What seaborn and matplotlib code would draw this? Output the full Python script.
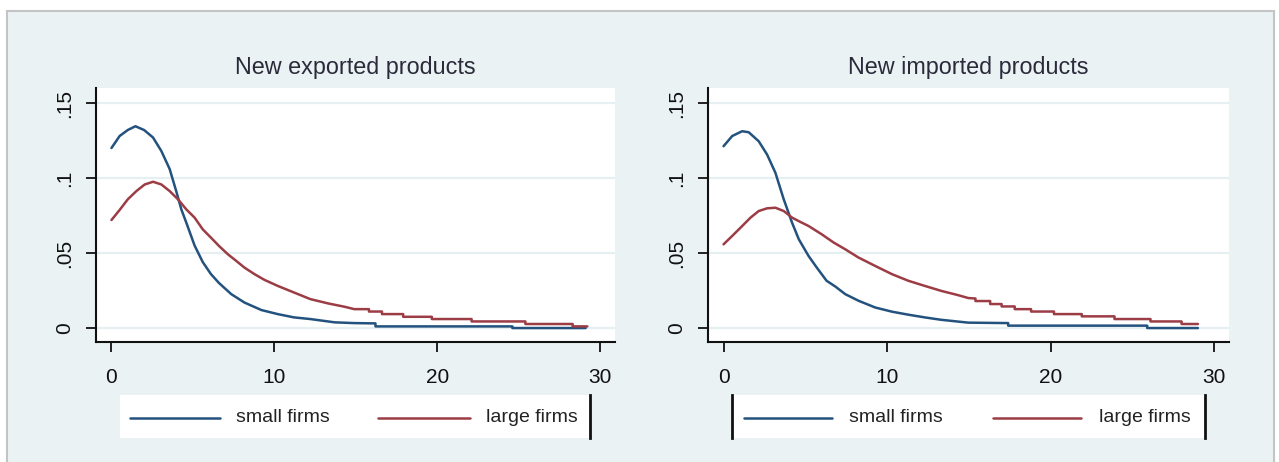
import matplotlib
matplotlib.use("Agg")
import matplotlib.pyplot as plt
from matplotlib.patches import Rectangle
import seaborn as sns
import pandas as pd

# ---- data: densities by number of years, small vs large firms ----
exp_small_x = [0, 0.5, 1.0, 1.47, 2.0, 2.55, 3.06, 3.57, 3.98, 4.29, 4.6, 5.1, 5.6, 6.1, 6.6,
               7.35, 8.16, 9.2, 10.2, 11.2, 12.2, 13.7, 14.9, 16.2, 16.2, 24.6, 24.6, 29.1]
exp_small_y = [0.120, 0.128, 0.132, 0.1345, 0.132, 0.127, 0.118, 0.106, 0.091, 0.079, 0.070,
               0.055, 0.044, 0.036, 0.030, 0.0226, 0.017, 0.012, 0.0093, 0.0071, 0.006, 0.0038,
               0.0033, 0.0031, 0.0011, 0.0011, 0.0, 0.0]

exp_large_x = [0, 0.5, 1.0, 1.53, 2.04, 2.55, 3.06, 3.57, 4.08, 4.6, 5.1, 5.6, 6.1, 6.6, 7.14,
               7.65, 8.16, 8.78, 9.39, 10.2, 11.2, 12.2, 13.3, 14.3, 14.9,
               15.8, 15.8, 16.6, 16.6, 17.9, 17.9, 19.66, 19.66, 22.1, 22.1, 25.4, 25.4,
               28.3, 28.3, 29.2]
exp_large_y = [0.072, 0.0787, 0.0858, 0.0913, 0.0957, 0.0975, 0.0957, 0.0913, 0.0858, 0.079,
               0.0736, 0.0658, 0.0603, 0.0547, 0.0492, 0.0448, 0.0403, 0.0359, 0.0321, 0.0281,
               0.0237, 0.0193, 0.0164, 0.0142, 0.0126,
               0.0126, 0.011, 0.011, 0.0093, 0.0093, 0.0075, 0.0075, 0.006, 0.006, 0.0044,
               0.0044, 0.0027, 0.0027, 0.0011, 0.0011]

imp_small_x = [0, 0.53, 1.14, 1.54, 2.15, 2.66, 3.17, 3.68, 4.19, 4.6, 5.2, 5.7, 6.3, 6.83,
               7.44, 8.25, 9.27, 10.3, 11.3, 12.3, 13.3, 14.96, 17.4, 17.4, 25.9, 25.9, 29.0]
imp_small_y = [0.1212, 0.128, 0.1312, 0.1305, 0.1245, 0.1157, 0.1035, 0.0858, 0.0702, 0.0592,
               0.048, 0.0403, 0.0315, 0.0277, 0.0226, 0.0182, 0.0137, 0.0109, 0.0089, 0.0071,
               0.0055, 0.0036, 0.0033, 0.0016, 0.0016, 0.0, 0.0]

imp_large_x = [0, 0.53, 1.14, 1.65, 2.15, 2.66, 3.17, 3.68, 4.19, 4.7, 5.2, 6.0, 6.73, 7.44,
               8.25, 9.27, 10.3, 11.3, 12.3, 13.3, 14.35, 14.96,
               15.4, 15.4, 16.3, 16.3, 17.0, 17.0, 17.8, 17.8, 18.8, 18.8, 20.2, 20.2,
               21.9, 21.9, 23.9, 23.9, 26.1, 26.1, 28.0, 28.0, 29.0]
imp_large_y = [0.0558, 0.0614, 0.068, 0.0736, 0.078, 0.0798, 0.0802, 0.078, 0.0736, 0.0707,
               0.068, 0.0625, 0.057, 0.0525, 0.047, 0.0414, 0.0359, 0.0315, 0.0281, 0.0248,
               0.0219, 0.0200,
               0.0197, 0.018, 0.018, 0.016, 0.016, 0.0144, 0.0144, 0.0126, 0.0126, 0.011,
               0.011, 0.0093, 0.0093, 0.0078, 0.0078, 0.006, 0.006, 0.0044, 0.0044, 0.0027,
               0.0027]

panel_titles = ["New exported products", "New imported products"]
groups = ["small firms", "large firms"]
x_ticks = [0, 10, 20, 30]
y_ticks = [0, 0.05, 0.1, 0.15]
y_tick_labels = ["0", ".05", ".1", ".15"]

# ---- style ----
sns.set_theme(style="white")
plt.rcParams["font.family"] = ["Liberation Sans", "DejaVu Sans"]

BG = "#eaf2f3"
GRID = "#e6eff1"
colors = {"small firms": "#24527e", "large firms": "#9c3c45"}

W, H = 1279, 462
fig = plt.figure(figsize=(W / 100, H / 100), dpi=100, facecolor="white")

# outer graph region, drawn underneath the axes
fig.patches.append(Rectangle((7 / W, -0.01), (1274 - 7) / W, 1 - 11 / H + 0.01,
                             transform=fig.transFigure, facecolor=BG,
                             edgecolor="#c4c4c4", linewidth=1.5, zorder=-10))


def px_axes(x0, x1, y_top, y_bot):
    return fig.add_axes([x0 / W, 1 - y_bot / H, (x1 - x0) / W, (y_bot - y_top) / H])


def make_frame(sx, sy, lx, ly):
    n1, n2 = len(sx), len(lx)
    return pd.DataFrame({
        "year": list(sx) + list(lx),
        "density": list(sy) + list(ly),
        "group": [groups[0]] * n1 + [groups[1]] * n2,
    })


panels = [
    dict(df=make_frame(exp_small_x, exp_small_y, exp_large_x, exp_large_y),
         box=(96, 615), legend=(120, 590), bars=("right",),
         leg_line=((130, 220), (378, 470)), leg_text=(236, 486)),
    dict(df=make_frame(imp_small_x, imp_small_y, imp_large_x, imp_large_y),
         box=(708, 1229), legend=(732, 1205), bars=("left", "right"),
         leg_line=((744, 832), (993, 1081)), leg_text=(849, 1099)),
]

for title, p in zip(panel_titles, panels):
    ax = px_axes(p["box"][0], p["box"][1], 88, 342)
    ax.set_facecolor("white")
    sns.lineplot(data=p["df"], x="year", y="density", hue="group",
                 palette=colors, estimator=None, sort=False, legend=False,
                 linewidth=1.8, ax=ax)
    ax.set_xlim(-0.95, 30.9)
    ax.set_ylim(-0.0093, 0.16)
    ax.set_xticks(x_ticks)
    ax.set_xticklabels([str(t) for t in x_ticks])
    ax.set_yticks(y_ticks)
    ax.set_yticklabels(y_tick_labels, rotation=90, va="center")
    ax.set_xlabel("")
    ax.set_ylabel("")
    ax.yaxis.grid(True, color=GRID, linewidth=1.6)
    ax.xaxis.grid(False)
    for side in ("top", "right"):
        ax.spines[side].set_visible(False)
    for side in ("left", "bottom"):
        ax.spines[side].set_color("#111111")
        ax.spines[side].set_linewidth(1.5)
    ax.tick_params(axis="both", which="both", direction="out", length=7, width=1.3,
                   color="#111111", labelsize=15, labelcolor="#111111")
    ax.tick_params(axis="x", pad=12, bottom=True)
    ax.tick_params(axis="y", pad=9, left=True)
    ax.text(0.5, 1.079, title, transform=ax.transAxes, ha="center", va="center",
            fontsize=16.8, color="#2a2a3a")

    # legend panel
    l0, l1 = p["legend"]
    lax = px_axes(l0, l1, 395, 438)
    lax.set_facecolor("white")
    lax.set_xlim(l0, l1)
    lax.set_ylim(438, 395)
    lax.set_xticks([])
    lax.set_yticks([])
    for side in ("top", "bottom", "left", "right"):
        lax.spines[side].set_visible(side in p["bars"])
        lax.spines[side].set_color("#111111")
        lax.spines[side].set_linewidth(2)
    for g, (xa, xb), tx in zip(groups, p["leg_line"], p["leg_text"]):
        lax.plot([xa, xb], [418, 418], color=colors[g], linewidth=1.8)
        lax.text(tx, 418, g, ha="left", va="center", fontsize=14, color="#222222")

fig.savefig("out.png", dpi=100, facecolor="white")
